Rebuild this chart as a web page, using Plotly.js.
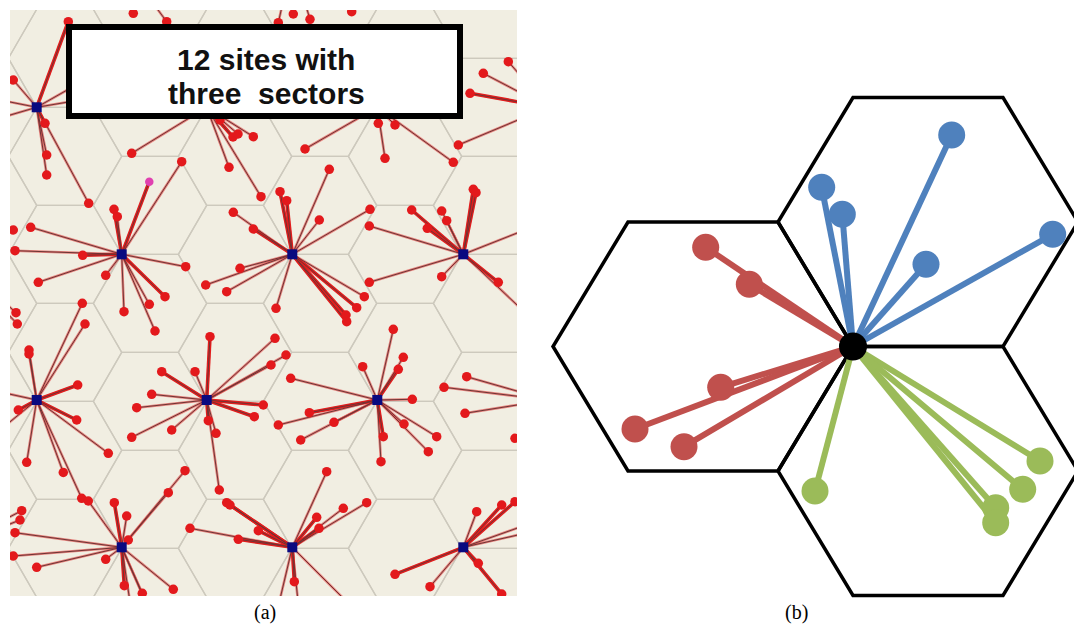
<!DOCTYPE html>
<html><head><meta charset="utf-8">
<script src="https://cdn.plot.ly/plotly-3.0.1.min.js"></script>
<style>html,body{margin:0;padding:0;background:#fff}#chart{width:1074px;height:642px}</style>
</head><body><div id="chart"></div>
<script>
// ================= Panel (a): 12 sites with three sectors =================
// base-station sites (picture coordinates, y grows downward)
const siteX = [36.7, 206.7, 377.3, 121.7, 292.3, 463.3, 36.7, 206.7, 377.3, 121.7, 292.3, 463.3];
const siteY = [107.3, 107.3, 107.3, 254.3, 254.3, 254.3, 400, 400, 400, 547.3, 547.3, 547.3];
// neighbouring sites just outside the picture (only their links show)
const edgeSiteX = [121.7, 292.3, 548.3, -48.6, 548.3, -48.6];
const edgeSiteY = [-39.3, -39.3, 107.3, 254.3, 400, 547.3];

// users: position, serving site (0-11 = sites, 12-17 = edge sites), strong link flag
const userX = [
  68.3, 13.3, 45, 46.7, 46.7, 88.7, 0, 0, 120, 110,
  131.7, 220, 233, 238, 253.3, 229, 261,
  305, 378.3, 395, 385, 453.3,
  181.7, 149.3, 114, 117.3, 30.7, 15, 82.7, 38.3, 105.7, 185.7, 165, 149.3, 124, 155,
  280, 286.7, 329.3, 233.3, 253.3, 319.3, 370, 240, 205.7, 226.7, 276, 364.3, 356.7, 346, 346.7,
  369.3, 411.7, 427.3, 441.7, 446.7, 473.3, 476, 545, 441.7, 369.3, 498.3, 535,
  82.3, 85, 29, 29, 77.7, 76.7, 18.3, 108.3, 26.7, 63.3, 81.7, 0, 0,
  161.7, 195, 210, 275, 286, 271, 151.7, 136.7, 263.3, 254.3, 131.7, 171.7, 208.3, 216, 219.3,
  393.3, 403.3, 398.3, 362.7, 290.7, 412.3, 309.3, 334, 300.7, 278.3, 404, 383.3, 436.7, 428.3, 381,
  185, 168.3, 88.3, 114.3, 126.7, 128.3, 15, 13.3, 36.7, 105.7, 124.3, 142.3, 173.3, 132, 150,
  190, 226.7, 230, 238.3, 258.3, 326.7, 343.3, 366.7, 316.7, 319, 294.3, 275, 300, 365,
  476.7, 501.7, 515, 540, 540, 395, 430, 478.3, 501.7,
  133.3, 166.7,
  278.3, 293.3, 310, 351.7,
  508.3, 483.3, 470, 458.3,
  13.3, 16, 17.3,
  466.7, 444, 465, 515,
  21.7, 20
];
const userY = [
  21.7, 80, 123.3, 155, 175, 203.3, 100, 118, 60, 95,
  153.3, 120, 137, 134, 136.7, 167.3, 196.7,
  149, 123.3, 125, 158.3, 162.3,
  161.7, 181.7, 209.3, 216.7, 227.3, 250.7, 255.3, 282.3, 275.3, 266.7, 296.7, 304.3, 311.7, 331,
  191.7, 200.7, 169.3, 212.3, 229, 220, 209.3, 268.3, 285, 291.7, 308.3, 296.7, 307.7, 315, 321.7,
  226, 210, 228.3, 211, 220.7, 189.3, 192.7, 222, 276.7, 282.3, 282.3, 322,
  303.3, 324, 350, 354, 385, 420, 410, 453.3, 462.3, 472.5, 498.3, 392, 430,
  371.7, 371.7, 336.7, 338.3, 355, 365, 394.3, 407.7, 405, 416.7, 437.3, 430, 420.7, 433.3, 490,
  329.3, 357.3, 369.3, 366.7, 378.3, 399.3, 412.7, 422.3, 440, 425, 424, 436.7, 436.7, 451.7, 461.7,
  470.7, 492.7, 501, 502.7, 516, 540, 532.7, 556, 567.3, 559.3, 585.7, 593.3, 589.3, 615, 612,
  528.3, 502.7, 505, 539.3, 530.7, 471.7, 508.3, 502.7, 517.3, 528.3, 581.7, 620, 620, 620,
  511.7, 505, 501.7, 520, 530, 574.3, 586.7, 563.3, 594,
  13.3, 21.7,
  22.7, 14, 19.3, 11.7,
  61.7, 73.3, 93.3, 145,
  230, 312.7, 324,
  376.7, 387.3, 413.3, 438.3,
  510.7, 520
];
const userSite = [
  0, 0, 0, 0, 0, 0, 0, 0, 0, 0,
  1, 1, 1, 1, 1, 1, 1,
  2, 2, 2, 2, 2,
  3, 3, 3, 3, 3, 3, 3, 3, 3, 3, 3, 3, 3, 3,
  4, 4, 4, 4, 4, 4, 4, 4, 4, 4, 4, 4, 4, 4, 4,
  5, 5, 5, 5, 5, 5, 5, 5, 5, 5, 5, 5,
  6, 6, 6, 6, 6, 6, 6, 6, 6, 6, 6, 6, 6,
  7, 7, 7, 7, 7, 7, 7, 7, 7, 7, 7, 7, 7, 7, 7,
  8, 8, 8, 8, 8, 8, 8, 8, 8, 8, 8, 8, 8, 8, 8,
  9, 9, 9, 9, 9, 9, 9, 9, 9, 9, 9, 9, 9, 9, 9,
  10, 10, 10, 10, 10, 10, 10, 10, 10, 10, 10, 10, 10, 10,
  11, 11, 11, 11, 11, 11, 11, 11, 11,
  12, 12,
  13, 13, 13, 13,
  14, 14, 14, 14,
  15, 15, 15,
  16, 16, 16, 16,
  17, 17
];
const userStrong = [
  1, 0, 1, 0, 0, 0, 0, 0, 0, 0,
  0, 1, 1, 0, 0, 0, 0,
  0, 1, 0, 0, 0,
  0, 1, 1, 0, 0, 0, 1, 0, 0, 0, 1, 0, 0, 0,
  1, 1, 0, 0, 1, 0, 0, 0, 0, 0, 0, 0, 1, 1, 1,
  0, 1, 1, 0, 0, 1, 1, 0, 0, 0, 1, 0,
  0, 0, 0, 0, 1, 1, 1, 0, 0, 0, 0, 0, 0,
  1, 0, 1, 0, 0, 0, 0, 0, 1, 1, 0, 0, 1, 0, 0,
  0, 0, 1, 0, 0, 0, 1, 0, 0, 0, 0, 1, 0, 0, 0,
  0, 0, 0, 1, 0, 0, 0, 0, 0, 0, 1, 0, 0, 0, 0,
  0, 1, 1, 1, 1, 0, 0, 0, 1, 1, 1, 0, 0, 0,
  0, 1, 1, 0, 0, 1, 0, 1, 1,
  0, 0,
  0, 0, 0, 0,
  0, 0, 1, 0,
  0, 0, 0,
  0, 0, 0, 0,
  0, 0
];
const highlightedUser = 23;   // the single magenta user
const titleLines = ['12 sites with', 'three\u00a0 sectors'];

// ================= Panel (b): one site, three sectors =================
const bSiteX = 853, bSiteY = 346.5;
const blueX = [951.7, 821.7, 842.3, 926, 1052.7];
const blueY = [135, 187.3, 214.3, 264.3, 234.3];
const redX = [705.7, 749.3, 720.7, 635, 684];
const redY = [247.3, 284.3, 387.3, 429, 446.7];
const greenX = [815, 1040, 1022.7, 995.7, 995.7];
const greenY = [491, 461, 489.3, 507.7, 522.7];
const panelLabels = ['(a)', '(b)'];

// ================= helpers =================
function hexPath(cx, cy, s, h, xs, ys) {
  const vx = [cx + s, cx + s / 2, cx - s / 2, cx - s, cx - s / 2, cx + s / 2, cx + s];
  const vy = [cy, cy - h, cy - h, cy, cy + h, cy + h, cy];
  for (let k = 0; k < vx.length; k++) { xs.push(vx[k]); ys.push(vy[k]); }
  xs.push(null); ys.push(null);
}
function siteHexes(x, y, s, h, xs, ys) {
  hexPath(x - s, y, s, h, xs, ys);
  hexPath(x + s / 2, y - h, s, h, xs, ys);
  hexPath(x + s / 2, y + h, s, h, xs, ys);
}
const allSiteX = siteX.concat(edgeSiteX);
const allSiteY = siteY.concat(edgeSiteY);

// hex grid for (a), derived from the site lattice
const dx = siteX[1] - siteX[0];
const dy = siteY[3] - siteY[0];
const sA = dx / 3, hA = dy / 3;
const gx = [], gy = [];
for (let j = -2; j <= 5; j++) {
  const off = (((j % 2) + 2) % 2) ? (siteX[3] - siteX[0]) : 0;
  for (let i = -2; i <= 4; i++) {
    siteHexes(siteX[0] + i * dx + off, siteY[0] + j * dy, sA, hA, gx, gy);
  }
}

// links
const thinX = [], thinY = [], strongX = [], strongY = [];
for (let u = 0; u < userX.length; u++) {
  const sx = allSiteX[userSite[u]], sy = allSiteY[userSite[u]];
  thinX.push(sx, userX[u], null); thinY.push(sy, userY[u], null);
  if (userStrong[u]) { strongX.push(sx, userX[u], null); strongY.push(sy, userY[u], null); }
}
const normX = userX.filter((v, i) => i !== highlightedUser);
const normY = userY.filter((v, i) => i !== highlightedUser);

const traces = [];
traces.push({x: gx, y: gy, mode: 'lines', line: {color: '#cdc9bd', width: 1.3}, xaxis: 'x', yaxis: 'y', hoverinfo: 'skip'});
traces.push({x: thinX, y: thinY, mode: 'lines', line: {color: 'rgba(220,40,40,0.55)', width: 2.6}, xaxis: 'x', yaxis: 'y', hoverinfo: 'skip'});
traces.push({x: strongX, y: strongY, mode: 'lines', line: {color: '#e11d1d', width: 3.6}, xaxis: 'x', yaxis: 'y', hoverinfo: 'skip'});
traces.push({x: thinX, y: thinY, mode: 'lines', line: {color: '#6e3434', width: 1}, xaxis: 'x', yaxis: 'y', hoverinfo: 'skip'});
traces.push({x: normX, y: normY, mode: 'markers', marker: {color: '#e3191c', size: 9.5, line: {width: 0}}, xaxis: 'x', yaxis: 'y', hoverinfo: 'skip'});
traces.push({x: [userX[highlightedUser]], y: [userY[highlightedUser]], mode: 'markers', marker: {color: '#e040b0', size: 8.5}, xaxis: 'x', yaxis: 'y', hoverinfo: 'skip'});
traces.push({x: siteX, y: siteY, mode: 'markers', marker: {color: '#0a0a80', size: 10, symbol: 'square'}, xaxis: 'x', yaxis: 'y', hoverinfo: 'skip'});

// panel (b)
const sB = 150, hB = 124.5;
const bx = [], by = [];
siteHexes(bSiteX, bSiteY, sB, hB, bx, by);
traces.push({x: bx, y: by, mode: 'lines', line: {color: '#000', width: 3.5}, xaxis: 'x2', yaxis: 'y2', hoverinfo: 'skip'});
const sectors = [[redX, redY, '#c0504d'], [blueX, blueY, '#4f81bd'], [greenX, greenY, '#9bbb59']];
sectors.forEach(([xs, ys, col]) => {
  const lx = [], ly = [];
  xs.forEach((v, i) => { lx.push(bSiteX, v, null); ly.push(bSiteY, ys[i], null); });
  traces.push({x: lx, y: ly, mode: 'lines', line: {color: col, width: 6}, xaxis: 'x2', yaxis: 'y2', hoverinfo: 'skip'});
});
sectors.forEach(([xs, ys, col]) => {
  traces.push({x: xs, y: ys, mode: 'markers', marker: {color: col, size: 27}, xaxis: 'x2', yaxis: 'y2', hoverinfo: 'skip'});
});
traces.push({x: [bSiteX], y: [bSiteY], mode: 'markers', marker: {color: '#000', size: 28}, xaxis: 'x2', yaxis: 'y2', hoverinfo: 'skip'});

const W = 1074, H = 642;
function ax(d0, d1, r) { return {domain: [d0, d1], range: r, visible: false, showgrid: false, zeroline: false, fixedrange: true}; }

const layout = {
  width: W, height: H,
  margin: {l: 0, r: 0, t: 0, b: 0},
  showlegend: false,
  paper_bgcolor: '#fff', plot_bgcolor: 'rgba(0,0,0,0)',
  xaxis: ax(10 / W, 517 / W, [10, 517]),
  yaxis: ax((H - 596) / H, (H - 10) / H, [596, 10]),
  xaxis2: ax(540 / W, 1, [540, 1074]),
  yaxis2: ax((H - 615) / H, (H - 5) / H, [615, 5]),
  shapes: [
    {type: 'rect', xref: 'x', yref: 'y', x0: 10, x1: 517, y0: 10, y1: 596, fillcolor: '#f1eee2', line: {width: 0}, layer: 'below'},
    {type: 'rect', xref: 'x', yref: 'y', x0: 69, x1: 460, y0: 27, y1: 116, fillcolor: '#fff', line: {color: '#000', width: 6}, layer: 'above'}
  ],
  annotations: [
    {xref: 'x', yref: 'y', x: 266, y: 59, text: titleLines[0], showarrow: false, font: {family: 'Liberation Sans, Arial, sans-serif', size: 30, color: '#111', weight: 'bold'}},
    {xref: 'x', yref: 'y', x: 266, y: 93, text: titleLines[1], showarrow: false, font: {family: 'Liberation Sans, Arial, sans-serif', size: 30, color: '#111', weight: 'bold'}},
    {xref: 'paper', yref: 'paper', x: 252 / W, y: (H - 626) / H, text: panelLabels[0], showarrow: false, font: {family: 'Liberation Serif, DejaVu Serif, serif', size: 20, color: '#000'}},
    {xref: 'paper', yref: 'paper', x: 810 / W, y: (H - 626) / H, text: panelLabels[1], showarrow: false, font: {family: 'Liberation Serif, DejaVu Serif, serif', size: 20, color: '#000'}}
  ]
};
Plotly.newPlot('chart', traces, layout, {staticPlot: true, displayModeBar: false});
</script>
</body></html>
